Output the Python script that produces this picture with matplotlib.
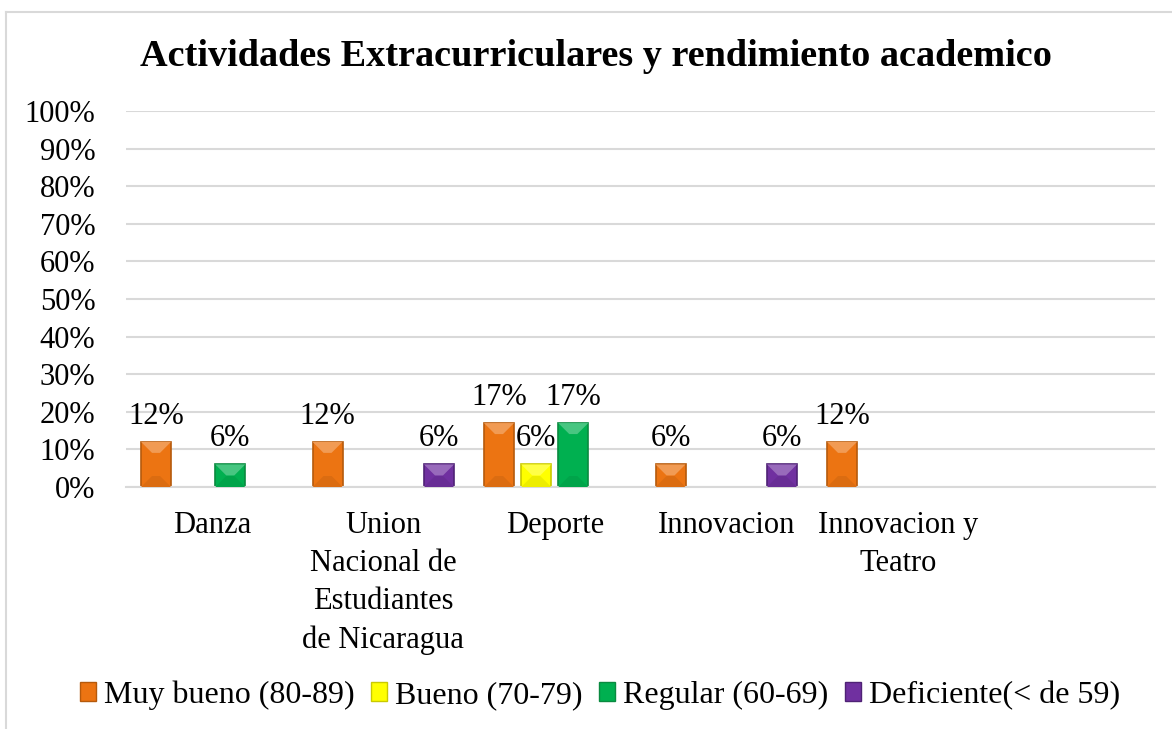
import matplotlib.pyplot as plt
import numpy as np
from matplotlib.patches import Polygon
from matplotlib.lines import Line2D
from matplotlib.colors import to_rgb

plt.rcParams["font.family"] = ["Liberation Serif", "DejaVu Serif"]

categories = ["Danza", "Union\nNacional de\nEstudiantes\nde Nicaragua", "Deporte",
              "Innovacion", "Innovacion y\nTeatro", ""]
series_names = ["Muy bueno (80-89)", "Bueno (70-79)", "Regular (60-69)", "Deficiente(< de 59)"]
muy_bueno = [12, 12, 17, 6, 12, np.nan]
bueno = [np.nan, np.nan, 6, np.nan, np.nan, np.nan]
regular = [6, np.nan, 17, np.nan, np.nan, np.nan]
deficiente = [np.nan, 6, np.nan, 6, np.nan, np.nan]
y_ticks = list(range(0, 101, 10))

colors = ["#EC7412", "#FFFF00", "#00B050", "#7030A0"]
edges = ["#B55A0C", "#C9C900", "#0A8A40", "#4F2275"]

W, H = 1172, 729
fig = plt.figure(figsize=(W / 100, H / 100), dpi=100)
ax = fig.add_axes([126 / W, 1 - 487 / H, (1155 - 126) / W, (487 - 111) / H])


def shade(c, f):
    r = np.array(to_rgb(c))
    if f > 0:
        return tuple(r + (1 - r) * f)
    return tuple(r * (1 + f))


def bevel(ax, bars, color, depth_px=11):
    # fake the beveled look of the original bars
    xpx = ax.get_position().width * W / 6.0
    ypx = ax.get_position().height * H / 100.0
    for b in bars:
        x0, y0, w, h = b.get_x(), b.get_y(), b.get_width(), b.get_height()
        if not np.isfinite(h) or h <= 0:
            continue
        dx = min(depth_px / xpx, w / 2)
        dy = min(depth_px / ypx, h / 2)
        x1, y1 = x0 + w, y0 + h
        top = [(x0, y1), (x1, y1), (x1 - dx, y1 - dy), (x0 + dx, y1 - dy)]
        bot = [(x0, y0), (x1, y0), (x1 - dx, y0 + dy), (x0 + dx, y0 + dy)]
        ax.add_patch(Polygon(top, closed=True, fc=shade(color, 0.28), ec="none", zorder=3))
        ax.add_patch(Polygon(bot, closed=True, fc=shade(color, -0.07), ec="none", zorder=3))


x = np.arange(len(categories))
offsets = [-0.325, -0.108, 0.108, 0.325]
width = 0.175
all_series = [muy_bueno, bueno, regular, deficiente]

ax.set_xlim(-0.5, len(categories) - 0.5)
ax.set_ylim(0, 100)

for vals, off, c, e in zip(all_series, offsets, colors, edges):
    vals = np.array(vals, dtype=float)
    bars = ax.bar(x + off, vals, width, color=c, edgecolor=e, linewidth=1.2, zorder=2)
    bevel(ax, bars, c)
    for b, v in zip(bars, vals):
        if np.isfinite(v):
            ax.annotate(f"{v:.0f}%", (b.get_x() + b.get_width() / 2, v),
                        xytext=(0, 8), textcoords="offset points",
                        ha="center", va="bottom", fontsize=22)

ax.set_yticks(y_ticks)
ax.set_yticklabels([f"{t}%" for t in y_ticks], fontsize=22)
ax.set_xticks(x)
ax.set_xticklabels(categories, fontsize=22, linespacing=1.42)
ax.tick_params(axis="y", length=0, pad=22)
ax.tick_params(axis="x", length=0, pad=17)
ax.grid(axis="y", color="#D9D9D9", linewidth=1.5, zorder=0)
ax.set_axisbelow(True)
for s in ["top", "right", "left"]:
    ax.spines[s].set_visible(False)
ax.spines["bottom"].set_color("#D9D9D9")
ax.spines["bottom"].set_linewidth(1.5)

fig.text(596 / W, 1 - 57 / H, "Actividades Extracurriculares y rendimiento academico",
         ha="center", va="center", fontsize=27.5, fontweight="bold")

handles = [plt.Rectangle((0, 0), 1, 1, fc=c, ec=e, lw=1.0) for c, e in zip(colors, edges)]
fig.legend(handles, series_names, loc="center", bbox_to_anchor=(600 / W, 1 - 695 / H),
           ncol=4, frameon=False, fontsize=23, handlelength=0.52, handleheight=0.52,
           handletextpad=0.25, columnspacing=0.5)

fig.add_artist(Line2D([6 / W, 1.0], [1 - 12 / H, 1 - 12 / H], color="#D9D9D9", lw=1.5))
fig.add_artist(Line2D([6 / W, 6 / W], [1 - 12 / H, 0.0], color="#D9D9D9", lw=1.5))

fig.savefig("out.png", dpi=100)
